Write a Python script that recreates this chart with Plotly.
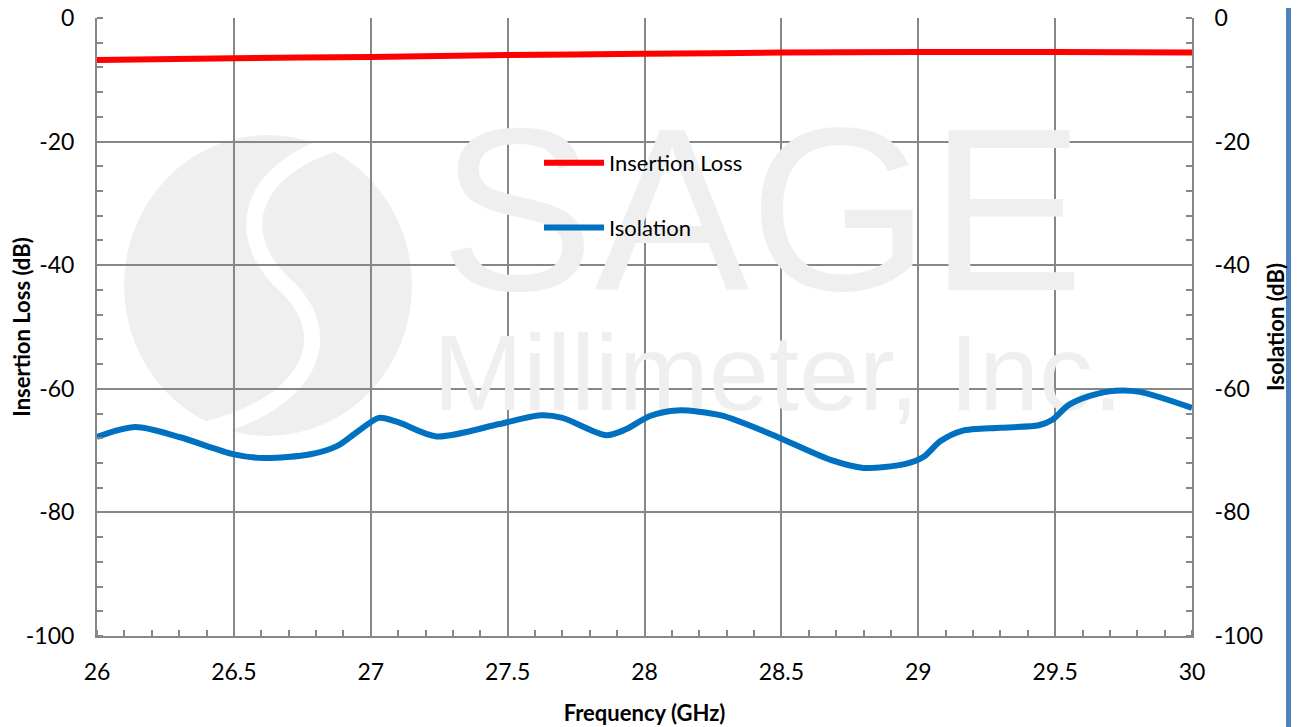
import plotly.graph_objects as go

freq_il = [26.0, 26.5, 27.0, 27.5, 28.0, 28.5, 29.0, 29.5, 30.0]
insertion_loss = [-6.8, -6.5, -6.3, -6.0, -5.8, -5.6, -5.5, -5.5, -5.6]

freq_iso = [26.0, 26.14, 26.3, 26.5, 26.61, 26.78, 26.88, 26.95, 27.03, 27.1, 27.24,
            27.47, 27.62, 27.7, 27.86, 27.93, 28.02, 28.12, 28.28, 28.46, 28.68,
            28.8, 28.95, 29.02, 29.08, 29.16, 29.3, 29.44, 29.49, 29.55, 29.63,
            29.72, 29.81, 30.0]
isolation = [-67.8, -66.2, -67.8, -70.6, -71.2, -70.6, -69.2, -67.0, -64.7, -65.4, -67.7,
             -65.7, -64.3, -64.7, -67.5, -66.6, -64.4, -63.5, -64.3, -67.3, -71.5,
             -72.8, -72.2, -71.0, -68.5, -66.8, -66.3, -65.9, -65.0, -62.6, -61.1,
             -60.3, -60.5, -63.1]

xticks = [26, 26.5, 27, 27.5, 28, 28.5, 29, 29.5, 30]
yticks = [0, -20, -40, -60, -80, -100]

FONT = "Lato"
AXC = "#878787"
WM = "#efefef"

# pixel -> data helpers (decoration placement only)
def px(xp):
    return 26 + (xp - 97) / 273.75
def py(yp):
    return -(yp - 18) / 6.18

fig = go.Figure()

# watermark text (as a text trace beneath data lines)
fig.add_trace(go.Scatter(
    x=[px(762), px(778)], y=[py(232), py(383)],
    mode="text", text=["SAGE", "Millimeter, Inc."],
    textfont=dict(family="Liberation Sans", size=[232, 108], color=WM),
    hoverinfo="skip", showlegend=False))

fig.add_trace(go.Scatter(
    x=freq_il, y=insertion_loss, name="Insertion Loss", mode="lines",
    line=dict(color="#ff0000", width=6, shape="spline"), legendgroup="a"))
fig.add_trace(go.Scatter(
    x=freq_iso, y=isolation, name="Isolation", mode="lines", yaxis="y2",
    line=dict(color="#0070c0", width=6, shape="spline", smoothing=0.8), legendgroup="b"))

# page has an 8px body margin: figure origin is at page (8, 8)
W, H = 1299 - 8, 727 - 8
L, T = 97 - 8, 18 - 8
R = W - (1192 - 8)
B = H - (636 - 8)
PW = W - L - R

shapes = [
    dict(type="circle", xref="x", yref="y", x0=px(124), x1=px(412), y0=py(135), y1=py(436),
         fillcolor=WM, line=dict(width=0), layer="below"),
    dict(type="path", xref="x", yref="y", layer="below",
         path=(f"M {px(345)},{py(140)} C {px(240)},{py(170)} {px(235)},{py(240)} {px(285)},{py(285)} "
               f"C {px(335)},{py(330)} {px(320)},{py(400)} {px(205)},{py(430)}"),
         line=dict(color="white", width=16)),
    dict(type="rect", xref="paper", yref="paper", x0=(1286 - 97) / PW, x1=(1300 - 97) / PW,
         y0=-0.3, y1=1.1, fillcolor="#4f81bd", line=dict(width=0), layer="above"),
]

axis_common = dict(showline=True, linecolor=AXC, linewidth=2, gridcolor=AXC, gridwidth=1.5,
                   zeroline=False, tickfont=dict(family=FONT, size=23, color="black"),
                   ticks="", mirror=False, automargin=False, ticklabeloverflow="allow")

fig.update_layout(
    width=W, height=H,
    margin=dict(l=L, r=R, t=T, b=B),
    paper_bgcolor="white", plot_bgcolor="white",
    font=dict(family=FONT, color="black"),
    shapes=shapes,
    xaxis=dict(range=[26, 30], tickvals=xticks, ticktext=[str(v) for v in xticks],
               showgrid=True, ticklabelstandoff=14,
               minor=dict(dtick=0.1, tick0=26, ticks="inside", ticklen=6, tickcolor=AXC, tickwidth=1.5, showgrid=False),
               title=dict(text="<b>Frequency (GHz)</b>", font=dict(family=FONT, size=22), standoff=22),
               **axis_common),
    yaxis=dict(range=[-100, 0], tickvals=yticks, ticktext=[str(v) for v in yticks],
               showgrid=True, ticklabelstandoff=16,
               minor=dict(dtick=4, tick0=0, ticks="inside", ticklen=6, tickcolor=AXC, tickwidth=1.5, showgrid=False),
               title=dict(text="<b>Insertion Loss (dB)</b>", font=dict(family=FONT, size=22), standoff=0),
               **axis_common),
    yaxis2=dict(range=[-100, 0], tickvals=yticks, ticktext=[str(v) for v in yticks],
                overlaying="y", side="right", showgrid=False, ticklabelstandoff=16,
                minor=dict(dtick=4, tick0=0, ticks="inside", ticklen=6, tickcolor=AXC, tickwidth=1.5, showgrid=False),
                title=dict(text="<b>Isolation (dB)</b>", font=dict(family=FONT, size=22), standoff=6),
                **axis_common),
    legend=dict(x=(539 - 97) / PW, y=(636 - 142) / 618, xanchor="left", yanchor="top",
                bgcolor="rgba(0,0,0,0)", font=dict(family=FONT, size=22),
                tracegroupgap=33, itemwidth=60),
    showlegend=True,
)

fig.write_html("out.html")
